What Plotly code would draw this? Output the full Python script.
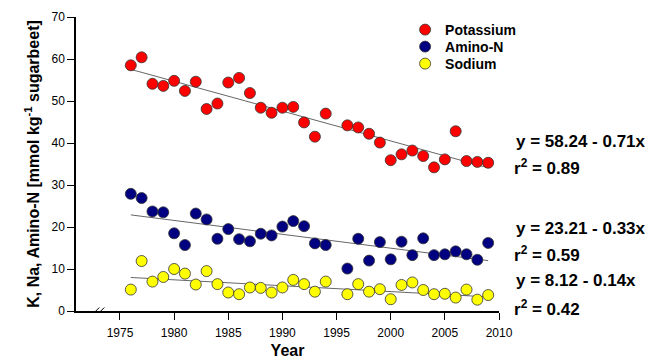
import plotly.graph_objects as go

years = list(range(1976, 1995)) + list(range(1996, 2010))
potassium = [58.5, 60.4, 54.1, 53.6, 54.8, 52.4, 54.6, 48.1, 49.4, 54.4, 55.5, 51.9,
             48.4, 47.2, 48.4, 48.6, 44.9, 41.5, 47.0,
             44.2, 43.7, 42.2, 40.1, 35.9, 37.3, 38.2, 36.9, 34.2, 36.1, 42.8, 35.7, 35.5, 35.3]
amino_n = [27.9, 26.9, 23.7, 23.5, 18.5, 15.7, 23.2, 21.8, 17.2, 19.5, 17.1, 16.6,
           18.4, 18.0, 20.1, 21.4, 20.2, 16.1, 15.7,
           10.1, 17.2, 12.0, 16.4, 12.3, 16.5, 13.3, 17.3, 13.3, 13.5, 14.2, 13.5, 12.2, 16.2]
sodium = [5.1, 11.9, 7.0, 8.1, 10.0, 8.9, 6.3, 9.5, 6.4, 4.4, 4.0, 5.6,
          5.5, 4.4, 5.6, 7.4, 6.4, 4.6, 7.0,
          4.0, 6.4, 4.6, 5.2, 2.8, 6.2, 6.8, 5.0, 4.0, 4.1, 3.2, 5.1, 2.7, 3.8]

series_names = ["Potassium", "Amino-N", "Sodium"]
intercepts = [58.24, 23.21, 8.12]
slopes = [-0.71, -0.33, -0.14]
r_squared = [0.89, 0.59, 0.42]
base_year = 1975

x_ticks = [1975, 1980, 1985, 1990, 1995, 2000, 2005, 2010]
y_ticks = [0, 10, 20, 30, 40, 50, 60, 70]

colors = ["#FF0000", "#000080", "#FFFF00"]
values = [potassium, amino_n, sodium]

FONT = "Liberation Sans, Arial, sans-serif"

fig = go.Figure()

# regression lines
for a, b in zip(intercepts, slopes):
    xs = [years[0], years[-1]]
    ys = [a + b * (x - base_year) for x in xs]
    fig.add_trace(go.Scatter(x=xs, y=ys, mode="lines",
                             line=dict(color="#666666", width=1),
                             showlegend=False, hoverinfo="skip"))

legend_ids = ["legend", "legend2", "legend3"]
for name, vals, col, lg in zip(series_names, values, colors, legend_ids):
    fig.add_trace(go.Scatter(x=years, y=vals, mode="markers", name=name, legend=lg,
                             marker=dict(size=11, color=col,
                                         line=dict(color="#333333", width=0.8))))

# equation annotations
eq_y = [(40.3, 34.3), (19.6, 13.6), (7.3, 0.6)]
for (ye, yr), a, b, r in zip(eq_y, intercepts, slopes, r_squared):
    fig.add_annotation(x=1.036, xref="paper", y=ye, yref="y", xanchor="left",
                       yanchor="middle", showarrow=False,
                       text=f"<b>y = {a:.2f} - {abs(b):.2f}x</b>",
                       font=dict(family=FONT, size=17, color="black"))
    fig.add_annotation(x=1.031, xref="paper", y=yr, yref="y", xanchor="left",
                       yanchor="middle", showarrow=False,
                       text=f"<b>r<sup>2</sup> = {r:.2f}</b>",
                       font=dict(family=FONT, size=17, color="black"))

# axis break marks
for off in (-2.5, 2.5):
    fig.add_shape(type="line", xref="x", yref="y", xsizemode="pixel", ysizemode="pixel",
                  xanchor=1973.0, yanchor=0, x0=off - 3.5, x1=off + 3.5, y0=-3.5, y1=3.5,
                  line=dict(color="black", width=1))

legend_common = dict(xanchor="left", yanchor="middle",
                     font=dict(family=FONT, size=14, color="black", weight="bold"),
                     bgcolor="rgba(0,0,0,0)", itemwidth=30)
plot_top, plot_bottom = 17, 311
def py(p):
    return (plot_bottom - p) / (plot_bottom - plot_top)

fig.update_layout(
    width=653, height=361,
    margin=dict(l=76, r=154, t=plot_top, b=361 - plot_bottom),
    plot_bgcolor="white", paper_bgcolor="white",
    font=dict(family=FONT, size=12, color="black"),
    legend=dict(x=0.778, y=py(30), **legend_common),
    legend2=dict(x=0.778, y=py(47), **legend_common),
    legend3=dict(x=0.778, y=py(64), **legend_common),
    showlegend=True,
)

fig.update_xaxes(range=[1970.94, 2010], tickvals=x_ticks, ticks="outside", ticklen=7,
                 tickwidth=1, tickcolor="black", showline=True, linecolor="black",
                 linewidth=1.5, showgrid=False, zeroline=False, automargin=False,
                 tickfont=dict(size=12), ticklabelstandoff=3,
                 title=dict(text="<b>Year</b>", font=dict(size=16), standoff=6))
fig.update_yaxes(range=[0, 70], tickvals=y_ticks, ticks="outside", ticklen=7,
                 tickwidth=1, tickcolor="black", showline=True, linecolor="black",
                 linewidth=1.5, showgrid=False, zeroline=False, automargin=False,
                 tickfont=dict(size=12),
                 title=dict(text="<b>K, Na, Amino-N [mmol kg<sup>-1</sup> sugarbeet]</b>",
                            font=dict(size=16), standoff=8))

fig.write_html("out.html")
